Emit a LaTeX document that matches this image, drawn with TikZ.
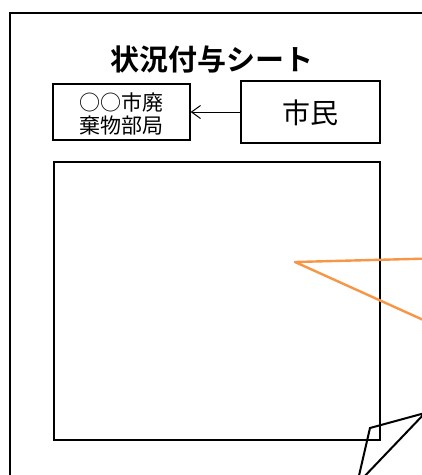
\documentclass[tikz,border=0pt]{standalone}
\usepackage{fontspec}
\newfontfamily\cjk{Noto Sans CJK JP}
\newfontfamily\cjkbold{Noto Sans CJK JP Bold}
\usetikzlibrary{arrows.meta}
\definecolor{callout}{RGB}{247,150,70}
\tikzset{
  box/.style={draw=black, line width=1.3pt, inner sep=0pt},
  lbl/.style={font=\cjk, align=center, inner sep=0pt}
}
\begin{document}
\begin{tikzpicture}[x=1pt,y=-1pt]
\useasboundingbox (0,0) rectangle (422,475);
\fill[white] (0,0) rectangle (422,475);
% outer frame
\draw[line width=2.4pt] (10,480) -- (10,13) -- (430,13);
% title
\node[font=\cjkbold\fontsize{29}{34}\selectfont, inner sep=0pt] (title) at (212,59) {状況付与シート};
% boxes
\node[box, minimum width=137pt, minimum height=56pt] (dept) at (121.5,112) {};
\node[lbl, font=\cjk\fontsize{21}{23}\selectfont] (depttext) at (121.5,114) {○○市廃\\棄物部局};
\node[box, minimum width=139pt, minimum height=62pt] (citizen) at (310.5,112) {};
\node[lbl, font=\cjk\fontsize{28}{32}\selectfont] (citizentext) at (310.5,113) {市民};
\draw[line width=1pt, -{Straight Barb[length=9pt, width=13pt]}] (citizen.west) -- (dept.east);
% big square
\node[box, minimum width=326pt, minimum height=278pt] (square) at (217,301) {};
% orange callout
\coordinate (apex) at (295,262);
\draw[callout, line width=2.4pt, line join=round] (430,258.5) -- (apex) -- (430,323);
% bottom-right shape
\coordinate (p1) at (370,428);
\coordinate (p2) at (425,413);
\draw[line width=2pt, line join=miter] (358,480) -- (p1) -- (p2) -- (361,480);
\end{tikzpicture}
\end{document}
